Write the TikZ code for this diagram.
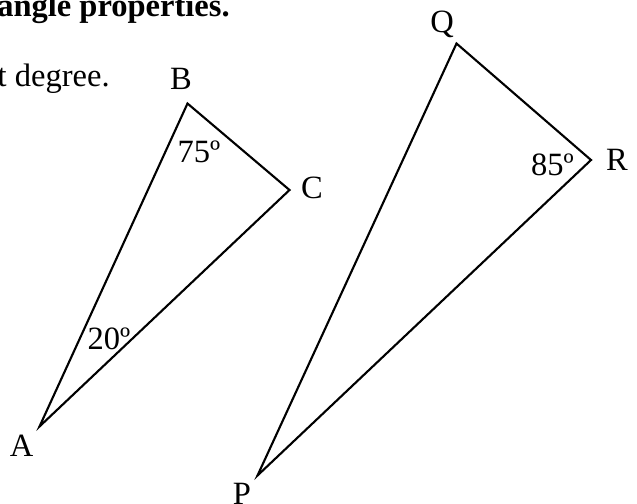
\documentclass[tikz,border=0pt]{standalone}
\usepackage{fontspec}
\setmainfont{Liberation Serif}

\begin{document}
\begin{tikzpicture}[line join=miter, vlabel/.style={anchor=base, inner sep=0pt},
    angmark/.style={anchor=base, inner sep=0pt}]
  \fontsize{18.5}{22}\selectfont
  % Page frame (same proportions as the worksheet crop)
  \useasboundingbox (0,0) rectangle (12.74,10.06);

  % Bits of the worksheet text, cut off at the left edge
  \node[anchor=base east, inner sep=0pt, font=\bfseries] (title) at (4.60,9.74) {angle properties.};
  \node[anchor=base east, inner sep=0pt] (task) at (2.20,8.34) {t degree.};

  % Corners of the two triangles
  \coordinate (A) at (0.79,1.53);
  \coordinate (B) at (3.75,7.99);
  \coordinate (C) at (5.79,6.26);
  \coordinate (P) at (5.15,0.55);
  \coordinate (Q) at (9.13,9.19);
  \coordinate (R) at (11.82,6.86);

  % Triangle ABC and triangle PQR
  \draw[line width=1.2pt] (A) -- (B) -- (C) -- cycle;
  \draw[line width=1.2pt] (P) -- (Q) -- (R) -- cycle;

  % Vertex letters
  \node[vlabel] (labA) at (0.43,0.93) {A};
  \node[vlabel] (labB) at (3.62,8.28) {B};
  \node[vlabel] (labC) at (6.24,6.10) {C};
  \node[vlabel] (labP) at (4.84,-0.02) {P};
  \node[vlabel] (labQ) at (8.84,9.42) {Q};
  \node[vlabel] (labR) at (12.34,6.66) {R};

  % Given angles
  \node[angmark] (angB) at (3.98,6.82) {75º};
  \node[angmark] (angA) at (2.18,3.08) {20º};
  \node[angmark] (angR) at (11.05,6.56) {85º};
\end{tikzpicture}
\end{document}
